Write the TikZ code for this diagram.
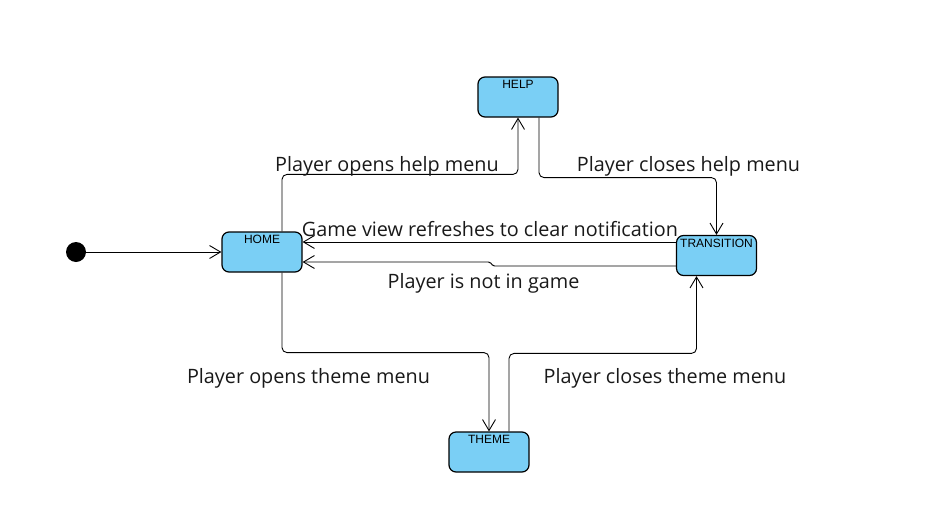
\documentclass[tikz,border=0pt]{standalone}
\usepackage{fontspec}
\setmainfont{Open Sans}
\newfontfamily\boxfont{Liberation Sans}
\usetikzlibrary{arrows.meta}
\definecolor{statefill}{RGB}{122,207,245}
\definecolor{lbltext}{RGB}{25,25,25}
\begin{document}
\begin{tikzpicture}[x=1pt,y=-1pt,
  state/.style={draw=black, line width=1.2pt, fill=statefill, rounded corners=7pt,
    minimum width=80pt, minimum height=40pt, inner xsep=1pt, inner ysep=3pt,
    text height=8.8pt, text depth=25.2pt, font=\boxfont\fontsize{12}{13}\selectfont},
  flow/.style={draw, line width=0.9pt, rounded corners=5pt,
    -{Straight Barb[length=11pt,width=13pt,line width=0.9pt]}},
  lbl/.style={anchor=base, inner sep=0pt, text=lbltext, font=\fontsize{19.8}{22}\selectfont}]
\useasboundingbox (0,0) rectangle (933,522);
\node[state] (home) at (262,252) {HOME};
\node[state] (help) at (518,97) {HELP};
\node[state] (trans) at (716.5,255.5) {TRANSITION};
\node[state] (theme) at (489,452) {THEME};
\node[circle, fill=black, minimum size=20pt, inner sep=0pt] (init) at (76,252) {};

\draw[flow] (init) -- (home);
\draw[flow] ([xshift=20pt]home.north) -- ++(0,-57) -| (help.south);
\draw[flow] ([xshift=21pt]help.south) -- ++(0,60) -| (trans.north);
\draw[flow] ([yshift=13.5pt]trans.west) -- ([yshift=10pt]home.east);
\draw[flow, rounded corners=1.5pt] ([yshift=-10.5pt]trans.west) -- (493,266) -- (490,262) -- ([yshift=-10pt]home.east);
\draw[flow] ([xshift=20pt]home.south) -- ++(0,80) -| (theme.north);
\draw[flow] ([xshift=20pt]theme.north) -- ++(0,-78) -| ([xshift=-20pt]trans.south);

\node[lbl] (l1) at (387,171) {Player opens help menu};
\node[lbl] (l2) at (688.5,171) {Player closes help menu};
\node[lbl] (l3) at (490,236) {Game view refreshes to clear notification};
\node[lbl] (l4) at (483.5,288) {Player is not in game};
\node[lbl] (l5) at (308.5,383) {Player opens theme menu};
\node[lbl] (l6) at (665,383) {Player closes theme menu};
\end{tikzpicture}
\end{document}
